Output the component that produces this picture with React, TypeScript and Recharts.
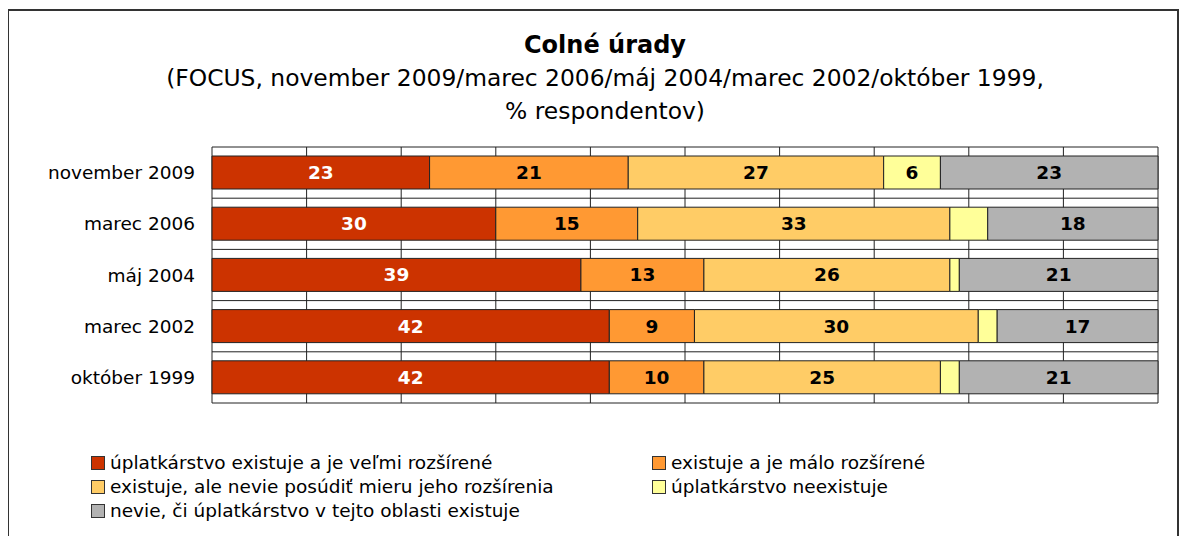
import React from 'react';
import {
  BarChart,
  Bar,
  XAxis,
  YAxis,
  CartesianGrid,
  LabelList,
} from 'recharts';

const periods = ['november 2009', 'marec 2006', 'máj 2004', 'marec 2002', 'október 1999'];

const velmiRozsirene = [23, 30, 39, 42, 42];
const maloRozsirene = [21, 15, 13, 9, 10];
const nevieMieru = [27, 33, 26, 30, 25];
const neexistuje = [6, 4, 1, 2, 2];
const nevieCi = [23, 18, 21, 17, 21];

const xTicks = [0, 10, 20, 30, 40, 50, 60, 70, 80, 90, 100];

const series = [
  { key: 's1', name: 'úplatkárstvo existuje a je veľmi rozšírené', color: '#CC3300', label: '#FFFFFF', values: velmiRozsirene },
  { key: 's2', name: 'existuje a je málo rozšírené', color: '#FF9933', label: '#000000', values: maloRozsirene },
  { key: 's3', name: 'existuje, ale nevie posúdiť mieru jeho rozšírenia', color: '#FFCC66', label: '#000000', values: nevieMieru },
  { key: 's4', name: 'úplatkárstvo neexistuje', color: '#FFFF99', label: '#000000', values: neexistuje },
  { key: 's5', name: 'nevie, či úplatkárstvo v tejto oblasti existuje', color: '#B2B2B2', label: '#000000', values: nevieCi },
];

const data = periods.map((name, i) => {
  const row: Record<string, string | number> = { name };
  series.forEach((s) => {
    row[s.key] = s.values[i];
  });
  return row;
});

const FONT = '"DejaVu Sans", Verdana, sans-serif';

export default function App() {
  return (
    <div
      style={{
        position: 'relative',
        margin: -8,
        width: 1189,
        height: 544,
        overflow: 'hidden',
        background: '#fff',
        fontFamily: FONT,
      }}
    >
      <div
        style={{
          position: 'absolute',
          left: 7,
          top: 9,
          width: 1168,
          height: 600,
          border: '2px solid #333',
        }}
      />
      <div style={{ position: 'absolute', left: 0, top: 28, width: 1210, textAlign: 'center', color: '#000' }}>
        <div style={{ fontSize: 24, fontWeight: 'bold', lineHeight: '34px' }}>Colné úrady</div>
        <div style={{ fontSize: 23.4, lineHeight: '33px' }}>
          (FOCUS, november 2009/marec 2006/máj 2004/marec 2002/október 1999,
        </div>
        <div style={{ fontSize: 23.4, lineHeight: '33px' }}>% respondentov)</div>
      </div>

      <div style={{ position: 'absolute', left: 0, top: 0 }}>
        <BarChart
          width={1189}
          height={544}
          data={data}
          layout="vertical"
          margin={{ top: 147, right: 31, bottom: 141, left: 0 }}
          barCategoryGap={9}
        >
          <CartesianGrid
            stroke="#222"
            horizontalCoordinatesGenerator={({ offset }: any) =>
              periods.map((_, i) => offset.top + (i * offset.height) / periods.length).concat(offset.top + offset.height)
            }
          />
          <XAxis type="number" domain={[0, 100]} ticks={xTicks} hide />
          <YAxis
            type="category"
            dataKey="name"
            width={212}
            tickLine={false}
            axisLine={false}
            tickSize={0}
            tickMargin={17}
            tick={{ fontSize: 18.5, fill: '#000', fontFamily: FONT }}
          />
          {series.map((s) => (
            <Bar
              key={s.key}
              dataKey={s.key}
              stackId="a"
              fill={s.color}
              stroke="#222"
              strokeWidth={1}
              isAnimationActive={false}
            >
              <LabelList
                dataKey={s.key}
                position="center"
                fill={s.label}
                fontSize={18.5}
                fontWeight="bold"
                fontFamily={FONT}
                formatter={(v: any) => (Number(v) >= 5 ? v : '')}
              />
            </Bar>
          ))}
        </BarChart>
      </div>

      <div
        style={{
          position: 'absolute',
          left: 91,
          top: 451,
          display: 'grid',
          gridTemplateColumns: '561px 400px',
          rowGap: 0,
          fontSize: 18.5,
          lineHeight: '24px',
          color: '#000',
        }}
      >
        {series.map((s) => (
          <div key={s.key} style={{ display: 'flex', alignItems: 'center', whiteSpace: 'nowrap' }}>
            <span
              style={{
                display: 'inline-block',
                width: 12,
                height: 12,
                background: s.color,
                border: '1px solid #333',
                marginRight: 5,
              }}
            />
            {s.name}
          </div>
        ))}
      </div>
    </div>
  );
}
